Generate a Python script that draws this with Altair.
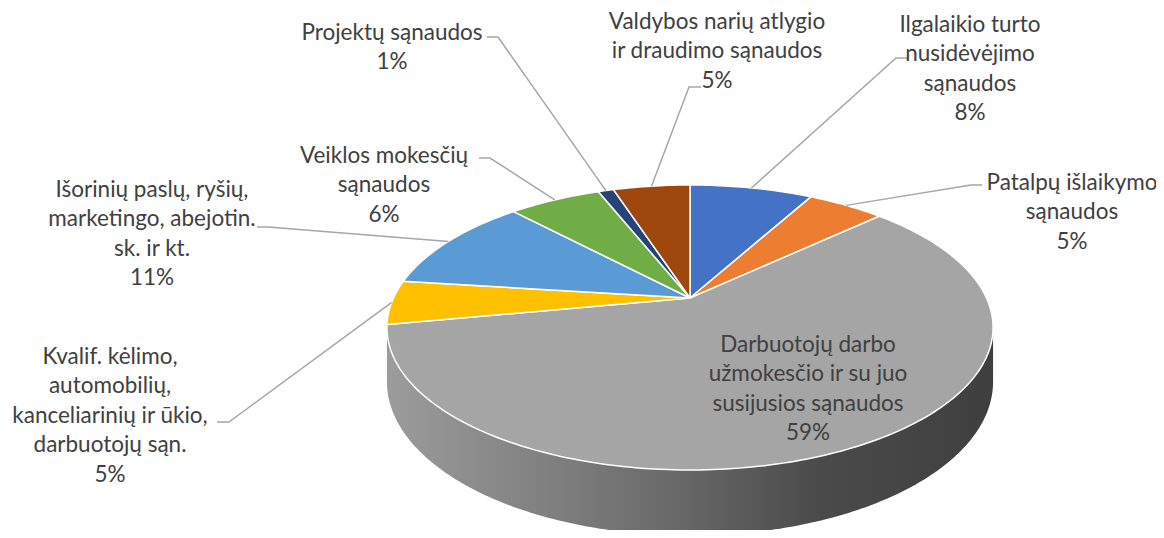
import math
import pandas as pd
import altair as alt

# ---------------- data ----------------
categories = [
    "Ilgalaikio turto nusidėvėjimo sąnaudos",
    "Patalpų išlaikymo sąnaudos",
    "Darbuotojų darbo užmokesčio ir su juo susijusios sąnaudos",
    "Kvalif. kėlimo, automobilių, kanceliarinių ir ūkio, darbuotojų sąn.",
    "Išorinių paslų, ryšių, marketingo, abejotin. sk. ir kt.",
    "Veiklos mokesčių sąnaudos",
    "Projektų sąnaudos",
    "Valdybos narių atlygio ir draudimo sąnaudos",
]
shares = [8, 5, 59, 5, 11, 6, 1, 5]
label_lines = [
    ["Ilgalaikio turto", "nusidėvėjimo", "sąnaudos"],
    ["Patalpų išlaikymo", "sąnaudos"],
    ["Darbuotojų darbo", "užmokesčio ir su juo", "susijusios sąnaudos"],
    ["Kvalif. kėlimo,", "automobilių,", "kanceliarinių ir ūkio,", "darbuotojų sąn."],
    ["Išorinių paslų, ryšių,", "marketingo, abejotin.", "sk. ir kt."],
    ["Veiklos mokesčių", "sąnaudos"],
    ["Projektų sąnaudos"],
    ["Valdybos narių atlygio", "ir draudimo sąnaudos"],
]
percent_labels = ["8%", "5%", "59%", "5%", "11%", "6%", "1%", "5%"]

# ---------------- style / layout ----------------
colors = ["#4472C4", "#ED7D31", "#A5A5A5", "#FFC000",
          "#5B9BD5", "#70AD47", "#264478", "#9E480E"]
CX, CY = 690.0, 298.0      # pie centre on screen
RA, RB = 296.5, 136.4      # horizontal / depth radii
K = 0.207                  # perspective factor
DEPTH = 52.0               # thickness of the pie
LINE_H = 29.4
FONT_SIZE = 22.5
# label layout: centre x, first line y, leader (label end x, stub end x, y) or None
layout = [
    dict(x=970, y=25, leader=(907, 896, 58)),
    dict(x=1072, y=183, leader=(982, 971, 185)),
    dict(x=808, y=345, leader=None),
    dict(x=110, y=357, leader=(217, 229, 422)),
    dict(x=152, y=190, leader=(257, 268, 227)),
    dict(x=384, y=156, leader=(479, 490, 158)),
    dict(x=392, y=33, leader=(487, 498, 37)),
    dict(x=717, y=22, leader=(701, 689, 87)),
]


def proj(theta_deg, drop=0.0):
    t = math.radians(theta_deg)
    X, Z = math.sin(t), math.cos(t)
    d = 1.0 + K * Z
    return CX + RA * X / d, CY - RB * Z / d + drop / d


total = float(sum(shares))
starts, ends = [], []
acc = 0.0
for s in shares:
    starts.append(acc / total * 360.0)
    acc += s
    ends.append(acc / total * 360.0)

# top-face slices as closed polygons
rows = []
for cat, a0, a1 in zip(categories, starts, ends):
    rows.append(dict(cat=cat, order=0, x=CX, y=CY))
    n = max(2, int(math.ceil((a1 - a0) / 1.0)))
    for j in range(n + 1):
        th = a0 + (a1 - a0) * j / n
        px, py = proj(th)
        rows.append(dict(cat=cat, order=j + 1, x=px, y=py))
slice_df = pd.DataFrame(rows)

# visible front wall (silhouette extremes where cos(theta) = -K)
th_r = 180.0 - math.degrees(math.acos(K))
th_l = 180.0 + math.degrees(math.acos(K))
wall_rows = []
n = 200
for j in range(n + 1):
    th = th_r + (th_l - th_r) * j / n
    px, py = proj(th)
    _, pyb = proj(th, DEPTH)
    wall_rows.append(dict(x=px, y=py, y2=pyb))
wall_df = pd.DataFrame(wall_rows)

# leader lines
lead_rows = []
for i, (cat, a0, a1) in enumerate(zip(categories, starts, ends)):
    L = layout[i]["leader"]
    if L is None:
        continue
    ex, ey = proj((a0 + a1) / 2.0)
    lead_rows += [dict(cat=cat, order=0, x=L[0], y=L[2]),
                  dict(cat=cat, order=1, x=L[1], y=L[2]),
                  dict(cat=cat, order=2, x=ex, y=ey)]
lead_df = pd.DataFrame(lead_rows)

# text rows
text_rows = []
for i in range(len(categories)):
    lines = label_lines[i] + [percent_labels[i]]
    for j, t in enumerate(lines):
        text_rows.append(dict(t=t, x=layout[i]["x"], y=layout[i]["y"] + j * LINE_H))
text_df = pd.DataFrame(text_rows)

xs = alt.Scale(domain=[8, 1156], nice=False, zero=False)
ys = alt.Scale(domain=[8, 530], nice=False, zero=False, reverse=True)
X = alt.X("x:Q", scale=xs, axis=None)
Y = alt.Y("y:Q", scale=ys, axis=None)

grad = alt.Gradient(
    gradient="linear",
    stops=[alt.GradientStop(color="#9c9c9c", offset=0),
           alt.GradientStop(color="#6c6c6c", offset=0.45),
           alt.GradientStop(color="#4a4a4a", offset=0.72),
           alt.GradientStop(color="#3f3f3f", offset=1)],
    x1=0, x2=1, y1=0, y2=0,
)

wall = alt.Chart(wall_df).mark_area(orient="vertical", color=grad).encode(
    x=X, y=Y, y2="y2:Q")

slices = alt.Chart(slice_df).mark_line(
    interpolate="linear-closed", filled=True, stroke="white",
    strokeWidth=1.5, strokeJoin="round", opacity=1).encode(
    x=X, y=Y,
    color=alt.Color("cat:N", scale=alt.Scale(domain=categories, range=colors), legend=None),
    detail="cat:N",
    order="order:Q",
)

leaders = alt.Chart(lead_df).mark_line(color="#A6A6A6", strokeWidth=1.5).encode(
    x=X, y=Y, detail="cat:N", order="order:Q")

texts = alt.Chart(text_df).mark_text(
    font="Lato", fontSize=FONT_SIZE, color="#404040", align="center", baseline="middle").encode(
    x=X, y=Y, text="t:N")

chart = alt.layer(wall, slices, leaders, texts).properties(
    width=1148, height=522, padding=0,
    autosize=alt.AutoSizeParams(type="none"),
).configure_view(stroke=None)

chart.save("out.html", embed_options={"renderer": "svg", "actions": False})
